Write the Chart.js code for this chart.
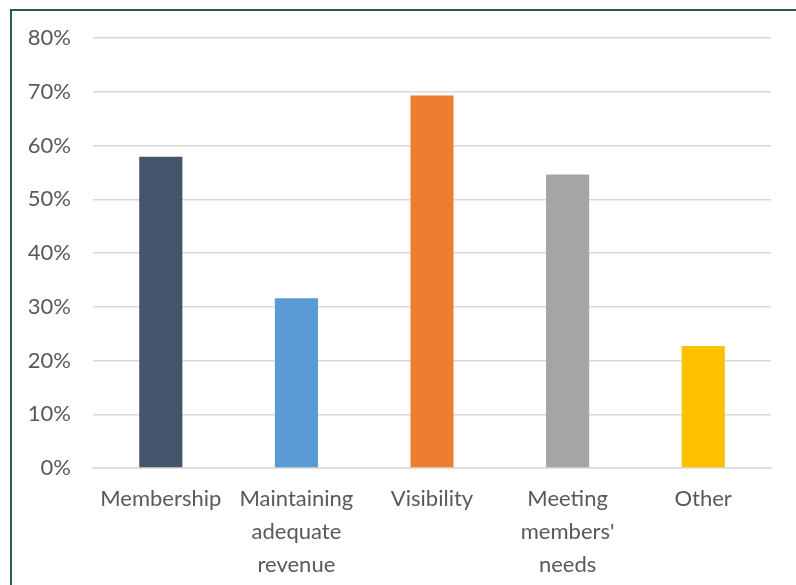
<!DOCTYPE html>
<html>
<head>
<meta charset="utf-8">
<script src="https://cdn.jsdelivr.net/npm/chart.js@4.4.1/dist/chart.umd.min.js"></script>
<style>
    html, body { margin: 0; padding: 0; background: #fff; overflow: hidden; }
    #frame {
        position: absolute; left: 10px; top: 9px; width: 820px; height: 620px;
        border-left: 2px solid #2D5C4C; border-top: 2px solid #2D5C4C;
    }
    #wrap { position: absolute; left: 0; top: 0; width: 796px; height: 585px; }
</style>
</head>
<body>
<div id="frame"></div>
<div id="wrap"><canvas id="chart"></canvas></div>
<script>
// Datos del gráfico
const categories = ['Membership', ['Maintaining', 'adequate', 'revenue'], 'Visibility', ['Meeting', "members'", 'needs'], 'Other'];
const values = [0.579, 0.316, 0.693, 0.546, 0.227];
const barColors = ['#44546A', '#5B9BD5', '#ED7D31', '#A5A5A5', '#FFC000'];
const yTicks = [0, 0.1, 0.2, 0.3, 0.4, 0.5, 0.6, 0.7, 0.8];

const textColor = '#595959';
const gridColor = '#D9D9D9';
const font = { family: 'Lato, "Open Sans", sans-serif', size: 22 };

const ctx = document.getElementById('chart').getContext('2d');
new Chart(ctx, {
    type: 'bar',
    data: {
        labels: categories,
        datasets: [{
            data: values,
            backgroundColor: barColors,
            borderWidth: 0,
            barPercentage: 0.318,
            categoryPercentage: 1
        }]
    },
    options: {
        responsive: true,
        maintainAspectRatio: false,
        animation: false,
        layout: { padding: { left: 0, top: 38, right: 25, bottom: 0 } },
        plugins: {
            legend: { display: false },
            tooltip: { enabled: false }
        },
        scales: {
            x: {
                grid: { display: false, drawTicks: false },
                border: { display: true, color: gridColor, width: 1.5 },
                ticks: {
                    color: textColor,
                    font: { ...font, lineHeight: 1.5 },
                    padding: 14,
                    maxRotation: 0,
                    autoSkip: false
                },
                afterFit: scale => { scale.height = 117; }
            },
            y: {
                min: 0,
                max: 0.8,
                afterBuildTicks: scale => {
                    scale.ticks = yTicks.map(v => ({ value: v }));
                },
                grid: { color: gridColor, lineWidth: 1.5, drawTicks: false },
                border: { display: false },
                ticks: {
                    color: textColor,
                    font: font,
                    padding: 22,
                    callback: v => Math.round(v * 100) + '%'
                },
                afterFit: scale => { scale.width = 93; }
            }
        }
    }
});
</script>
</body>
</html>
